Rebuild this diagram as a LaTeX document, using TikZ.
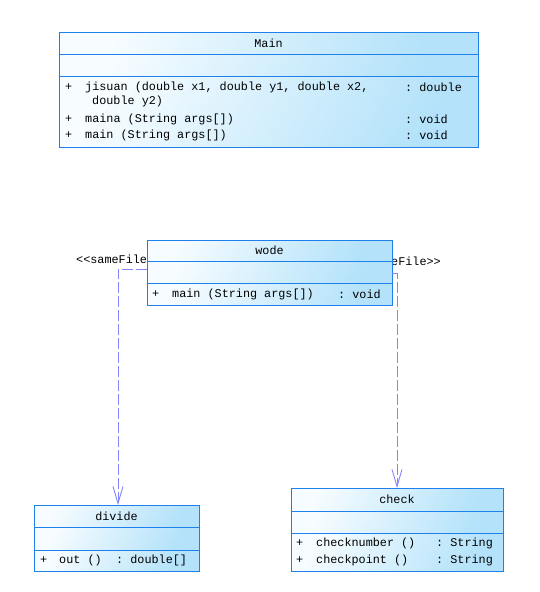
\documentclass[tikz,border=0pt]{standalone}
\usepackage{fontspec}
\setmonofont{Liberation Mono}
\usetikzlibrary{arrows.meta}
\definecolor{umlborder}{HTML}{1E80EA}
\definecolor{umlfillA}{HTML}{F6FCFF}
\definecolor{umlfillB}{HTML}{B3E2FA}
\definecolor{umlconn}{HTML}{8484FF}
\tikzset{
  comp/.style={draw=umlborder, line width=1pt, rectangle, inner sep=0pt, outer sep=0pt,
    anchor=north west, left color=umlfillA, right color=umlfillB, shading angle=60},
  txt/.style={font=\ttfamily\fontsize{11.8}{13}\selectfont, inner sep=0pt, anchor=west},
  title/.style={font=\ttfamily\fontsize{11.8}{13}\selectfont, inner sep=0pt},
  stereo/.style={font=\ttfamily\fontsize{11.8}{13}\selectfont, inner sep=0pt, anchor=west},
  dep/.style={draw=umlconn, line width=0.9pt, dash pattern=on 11pt off 3pt,
    -{Straight Barb[length=17pt,width=10pt,line width=0.9pt]}},
}
\begin{document}
\begin{tikzpicture}[x=1pt,y=-1pt]
\useasboundingbox (0,0) rectangle (539,592);
% stereotype labels (partly hidden by wode)
\node[stereo] (lblL) at (76,259) {<<sameFile>>};
\node[stereo, anchor=east] (lblR) at (441,261) {<<sameFile>>};

% Main
\node[comp, minimum width=419pt, minimum height=22pt] (mH) at (59,32) {};
\node[comp, minimum width=419pt, minimum height=22pt] (mA) at (59,54) {};
\node[comp, minimum width=419pt, minimum height=71pt] (mM) at (59,76) {};
\node[title] (mT) at (mH.center) {Main};
\node[txt] (m1p) at (65,87) {+};
\node[txt] (m1) at (85,87) {jisuan (double x1, double y1, double x2,};
\node[txt] (m1b) at (92,101) {double y2)};
\node[txt] (m1r) at (405,87) {: double};
\node[txt] (m2p) at (65,119) {+};
\node[txt] (m2) at (85,119) {maina (String args[])};
\node[txt] (m2r) at (405,119) {: void};
\node[txt] (m3p) at (65,135) {+};
\node[txt] (m3) at (85,135) {main (String args[])};
\node[txt] (m3r) at (405,135) {: void};

% wode
\node[comp, minimum width=245pt, minimum height=21pt] (wH) at (147,240) {};
\node[comp, minimum width=245pt, minimum height=22pt] (wA) at (147,261) {};
\node[comp, minimum width=245pt, minimum height=22pt] (wM) at (147,283) {};
\node[title] (wT) at (wH.center) {wode};
\node[txt] (w1p) at (152,294) {+};
\node[txt] (w1) at (172,294) {main (String args[])};
\node[txt] (w1r) at (338,294) {: void};

% divide
\node[comp, minimum width=165pt, minimum height=22pt] (dH) at (34,505) {};
\node[comp, minimum width=165pt, minimum height=23pt] (dA) at (34,527) {};
\node[comp, minimum width=165pt, minimum height=21pt] (dM) at (34,550) {};
\node[title] (dT) at (dH.center) {divide};
\node[txt] (d1p) at (40,560) {+};
\node[txt] (d1) at (59,560) {out ()};
\node[txt] (d1r) at (116,560) {: double[]};

% check
\node[comp, minimum width=212pt, minimum height=23pt] (cH) at (291,488) {};
\node[comp, minimum width=212pt, minimum height=22pt] (cA) at (291,511) {};
\node[comp, minimum width=212pt, minimum height=38pt] (cM) at (291,533) {};
\node[title] (cT) at (cH.center) {check};
\node[txt] (c1p) at (296,543) {+};
\node[txt] (c1) at (316,543) {checknumber ()};
\node[txt] (c1r) at (436,543) {: String};
\node[txt] (c2p) at (296,560) {+};
\node[txt] (c2) at (316,560) {checkpoint ()};
\node[txt] (c2r) at (436,560) {: String};

% dependencies
\draw[dep] ([yshift=3pt]wA.west) -| ([xshift=1.5pt]dH.north);
\draw[dep] ([yshift=-1pt]wA.east) -| (cH.north);
\end{tikzpicture}
\end{document}
